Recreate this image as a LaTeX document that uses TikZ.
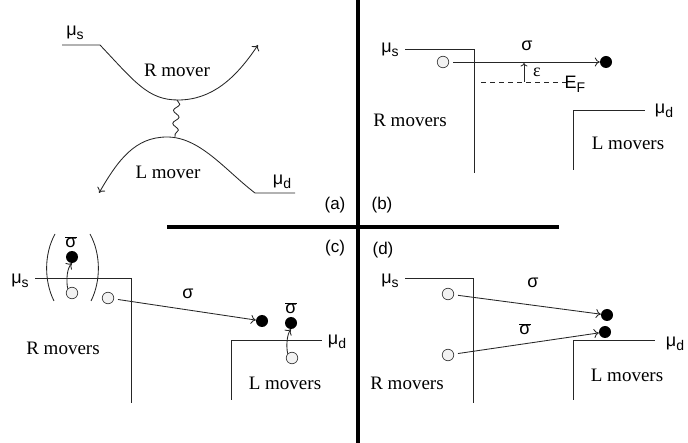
\documentclass[tikz,border=0pt]{standalone}
\usepackage{fontspec}
\setmainfont{Liberation Sans}
\newfontfamily\serifmv{Liberation Serif}
\usetikzlibrary{decorations.pathmorphing,arrows.meta}
\newcommand{\musub}[1]{μ\raisebox{-0.45ex}{\fontsize{14}{14}\selectfont #1}}
\newcommand{\sigbar}{$\overline{\hbox{σ}}$}
\tikzset{
  wire/.style={line width=0.85pt, draw=black!85},
  bar/.style={line width=4.5pt},
  lbl/.style={font=\fontsize{18}{18}\selectfont, inner sep=0pt},
  panel/.style={font=\fontsize{17}{17}\selectfont, inner sep=0pt},
  mv/.style={font=\serifmv\fontsize{19}{19}\selectfont, inner sep=0pt},
  hole/.style={circle, draw=black!75, fill=black!5, minimum size=11.5pt, inner sep=0pt, line width=0.7pt},
  elec/.style={circle, fill=black, minimum size=12pt, inner sep=0pt},
  arr/.style={wire, -{To[length=5pt,width=9pt]}},
}
\begin{document}
\begin{tikzpicture}[x=1pt,y=-1pt]
\useasboundingbox (0,0) rectangle (688,443);
% dividing bars
\draw[bar] (358,0) -- (358,443);
\draw[bar] (167,227) -- (559,227);

% ---------- (a) ----------
\coordinate (aL) at (62,45);
\coordinate (aK) at (100,45);
\coordinate (amin) at (178,100);
\coordinate (aend) at (258,45);
\draw[arr] (aL) -- (aK) .. controls (135,82) and (148,100) .. (amin)
  .. controls (212,100) and (236,78) .. (aend);
\coordinate (bR) at (295,193);
\coordinate (bK) at (255,193);
\coordinate (bmax) at (167,137);
\coordinate (bend) at (99,193);
\draw[arr] (bR) -- (bK) .. controls (225,170) and (200,137) .. (bmax)
  .. controls (135,137) and (118,160) .. (bend);
\coordinate (wtop) at (177,100);
\coordinate (wbot) at (175,137);
\draw[wire, decorate, decoration={snake, amplitude=3pt, segment length=13pt}] (wtop) -- (wbot);
\node[mv] (arm) at (177,70) {R mover};
\node[mv] (alm) at (168,172) {L mover};
\node[lbl] (amus) at (75,33) {\musub{s}};
\node[lbl] (amud) at (282,182) {\musub{d}};
\node[panel] (pa) at (335,205) {(a)};

% ---------- (b) ----------
\node[panel] (pb) at (382,205) {(b)};
\node[lbl] (bmus) at (390,50) {\musub{s}};
\coordinate (bs1) at (405,49);
\coordinate (bs2) at (474,49);
\coordinate (bs3) at (474,173);
\draw[wire] (bs1) -- (bs2) -- (bs3);
\node[hole] (bh) at (443,62) {};
\node[elec] (be) at (606,62) {};
\draw[arr, shorten <=4pt] (bh) -- (be);
\node[lbl] (bsig) at (527,46) {σ};
\coordinate (ef1) at (481,82);
\coordinate (ef2) at (568,82);
\draw[wire, dash pattern=on 5pt off 4pt] (ef1) -- (ef2);
\coordinate (epsb) at (524,82);
\coordinate (epst) at (524,63);
\draw[wire, -{To[length=3.5pt,width=7pt]}] (epsb) -- (epst);
\node[lbl] (beps) at (537,72) {\serifmv ε};
\node[lbl] (bef) at (575,84) {E\raisebox{-0.45ex}{\fontsize{14}{14}\selectfont F}};
\node[mv] (brm) at (410,120) {R movers};
\coordinate (bd1) at (573,170);
\coordinate (bd2) at (573,110);
\coordinate (bd3) at (645,110);
\draw[wire] (bd1) -- (bd2) -- (bd3);
\node[lbl] (bmud) at (664,111) {\musub{d}};
\node[mv] (blm) at (628,143) {L movers};

% ---------- (c) ----------
\node[panel] (pc) at (335,248) {(c)};
\node[lbl] (cmus) at (20,281) {\musub{s}};
\coordinate (cs1) at (35,278);
\coordinate (cs2) at (131,278);
\coordinate (cs3) at (131,403);
\draw[wire] (cs1) -- (cs2) -- (cs3);
\coordinate (pl1) at (55,234);
\coordinate (pl2) at (54,301);
\draw[wire] (pl1) .. controls (44,254) and (44,281) .. (pl2);
\coordinate (pr1) at (90,234);
\coordinate (pr2) at (91,301);
\draw[wire] (pr1) .. controls (101,254) and (101,281) .. (pr2);
\node[lbl] (csb1) at (71,242) {\sigbar};
\node[elec] (cf1) at (72,257) {};
\node[hole] (ch1) at (72,293) {};
\draw[arr] (ch1.north west) .. controls (66,280) and (67,268) .. (cf1.south);
\node[hole] (ch2) at (108,298) {};
\node[elec] (cf2) at (262,321) {};
\draw[arr, shorten <=4pt] (ch2) -- (cf2);
\node[lbl] (csig) at (188,294) {σ};
\node[lbl] (csb2) at (291,308) {\sigbar};
\node[elec] (cf3) at (291,323) {};
\node[hole] (ch3) at (292,358) {};
\draw[arr] (ch3.north west) .. controls (286,346) and (287,334) .. (cf3.south);
\coordinate (cd1) at (231,400);
\coordinate (cd2) at (231,340);
\coordinate (cd3) at (322,340);
\draw[wire] (cd1) -- (cd2) -- (cd3);
\node[lbl] (cmud) at (337,342) {\musub{d}};
\node[mv] (crm) at (63,348) {R movers};
\node[mv] (clm) at (285,383) {L movers};

% ---------- (d) ----------
\node[panel] (pd) at (383,250) {(d)};
\node[lbl] (dmus) at (390,281) {\musub{s}};
\coordinate (ds1) at (405,278);
\coordinate (ds2) at (473,278);
\coordinate (ds3) at (473,403);
\draw[wire] (ds1) -- (ds2) -- (ds3);
\node[hole] (dh1) at (448,294) {};
\node[hole] (dh2) at (448,355) {};
\node[elec] (df1) at (607,315) {};
\node[elec] (df2) at (605,332) {};
\draw[arr, shorten <=4pt] (dh1) -- (df1);
\draw[arr, shorten <=4pt] (dh2) -- (df2);
\node[lbl] (dsig) at (533,283) {σ};
\node[lbl] (dsb) at (525,329) {\sigbar};
\coordinate (dd1) at (573,400);
\coordinate (dd2) at (573,340);
\coordinate (dd3) at (655,340);
\draw[wire] (dd1) -- (dd2) -- (dd3);
\node[lbl] (dmud) at (675,344) {\musub{d}};
\node[mv] (drm) at (407,383) {R movers};
\node[mv] (dlm) at (627,375) {L movers};
\end{tikzpicture}
\end{document}
